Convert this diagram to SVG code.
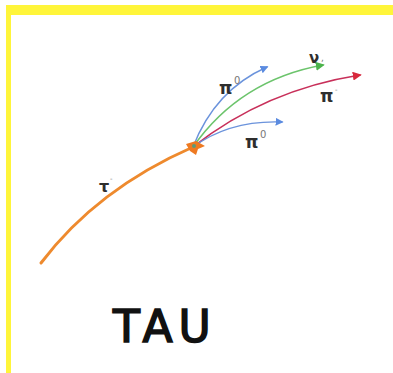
<svg xmlns="http://www.w3.org/2000/svg" width="393" height="373" viewBox="0 0 393 373">
  <style>
    .trk { fill: none; stroke-linecap: round; }
    .lbl { font-family: "DejaVu Sans", "Liberation Sans", sans-serif; font-weight: bold; fill: #2e2e2e; }
    .sup { font-family: "DejaVu Sans", "Liberation Sans", sans-serif; fill: #777; }
  </style>
  <defs>
    <marker id="ah-blue" viewBox="0 0 10 10" refX="8" refY="5" markerWidth="8" markerHeight="8" markerUnits="userSpaceOnUse" orient="auto">
      <path d="M0,0 L10,5 L0,10 Z" fill="#5b8be0"/>
    </marker>
    <marker id="ah-green" viewBox="0 0 10 10" refX="8" refY="5" markerWidth="9" markerHeight="9" markerUnits="userSpaceOnUse" orient="auto">
      <path d="M0,0 L10,5 L0,10 Z" fill="#4cb34c"/>
    </marker>
    <marker id="ah-red" viewBox="0 0 10 10" refX="8" refY="5" markerWidth="9" markerHeight="9" markerUnits="userSpaceOnUse" orient="auto">
      <path d="M0,0 L10,5 L0,10 Z" fill="#d8283c"/>
    </marker>
  </defs>

  <rect width="393" height="373" fill="#ffffff"/>

  <!-- yellow frame: top band and left edge -->
  <g id="frame" fill="#fff53a">
    <rect x="6" y="5" width="387" height="10"/>
    <rect x="6" y="5" width="5" height="368"/>
  </g>

  <!-- tracks -->
  <g id="connectors">
    <path id="tau-track" class="trk" d="M41,263 Q97,189 193,147" stroke="#ee8a2e" stroke-width="3"/>
    <path id="pi0-upper" class="trk" d="M193,147 Q215,90 267,67" stroke="#6b93dc" stroke-width="1.4" marker-end="url(#ah-blue)"/>
    <path id="nu-track" class="trk" d="M193,147 Q240,80 323,65" stroke="#6cc46c" stroke-width="1.6" marker-end="url(#ah-green)"/>
    <path id="pim-track" class="trk" d="M193,147 Q265,90 360,75" stroke="#c8305a" stroke-width="1.6" marker-end="url(#ah-red)"/>
    <path id="pi0-lower" class="trk" d="M193,147 Q230,120 282,122" stroke="#6b93dc" stroke-width="1.4" marker-end="url(#ah-blue)"/>
  </g>

  <!-- decay vertex -->
  <g id="vertex">
    <path d="M186,144 L196,141 L205,146 L198,149 L196,155 L190,151 Z" fill="#ee7a22"/>
    <circle cx="194" cy="146" r="2" fill="#5a9a7a"/>
  </g>

  <g id="label-tau">
    <text class="lbl" x="99" y="192" font-size="16">τ</text>
    <text class="sup" x="110" y="181" font-size="7">-</text>
  </g>
  <g id="label-pi0-upper">
    <text class="lbl" x="219" y="94" font-size="17">π</text>
    <text class="sup" x="234" y="84" font-size="10">0</text>
  </g>
  <g id="label-nu">
    <text class="lbl" x="309" y="63" font-size="15">ν</text>
    <text class="sup" x="321" y="61" font-size="9">,</text>
  </g>
  <g id="label-pim">
    <text class="lbl" x="320" y="102" font-size="17">π</text>
    <text class="sup" x="335" y="92" font-size="7">-</text>
  </g>
  <g id="label-pi0-lower">
    <text class="lbl" x="245" y="148" font-size="17">π</text>
    <text class="sup" x="260" y="138" font-size="10">0</text>
  </g>

  <g id="title">
    <text x="113" y="342" font-family="'DejaVu Sans', 'Liberation Sans', sans-serif" font-size="44" letter-spacing="6" fill="#111" stroke="#111" stroke-width="1.6">TAU</text>
  </g>
</svg>
